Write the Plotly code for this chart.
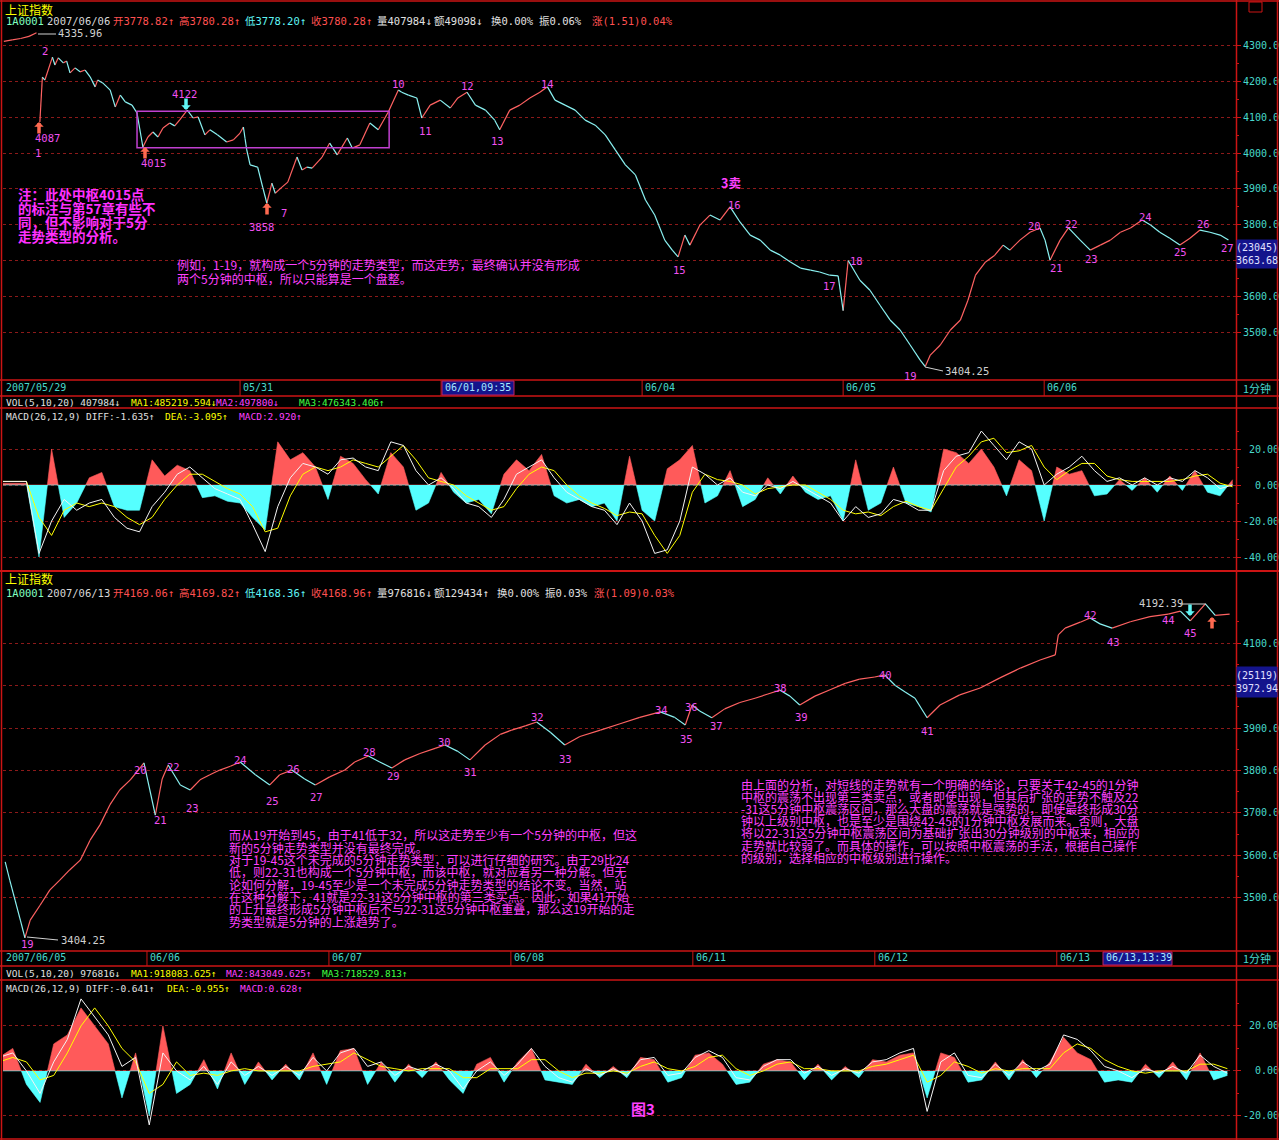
import plotly.graph_objects as go

W, H = 1279, 1140

# ---------------- DATA ----------------
# top panel: minutes since 2007/05/30 open (240 per trading day)
prev_t = [-42, -32, -22, -12, -3]
prev_p = [4312, 4316, 4320, 4326, 4336]

top_t = [1, 4, 7, 16, 19, 23, 29, 33, 37, 43,
         49, 55, 61, 67, 70, 76, 85, 91, 97, 103,
         111, 117, 124, 130, 136, 142, 148, 156, 162, 168,
         177, 184, 190, 198, 204, 213, 224, 232, 240, 244,
         246, 248, 252, 261, 267, 272, 278, 282, 290, 297,
         308, 314, 320, 326, 338, 347, 356, 368, 374, 383,
         395, 405, 417, 429, 433, 441, 451, 457, 467, 479,
         491, 500, 511, 521, 533, 544, 550, 562, 574, 586,
         598, 607, 616, 628, 640, 652, 664, 676, 688, 700,
         712, 724, 735, 747, 756, 763, 771, 777, 789, 801,
         813, 825, 837, 849, 861, 873, 885, 897, 909, 921,
         932, 944, 954, 960, 966, 980, 992, 1004, 1016, 1028,
         1040, 1052, 1058, 1064, 1076, 1088, 1100, 1109, 1118, 1130,
         1141, 1151, 1159, 1171, 1183, 1195, 1201, 1207, 1219, 1229,
         1243, 1255, 1267, 1279, 1291, 1303, 1317, 1327, 1338, 1350,
         1362, 1374, 1386, 1398, 1410, 1420]
top_p = [4087, 4212, 4204, 4268, 4246, 4266, 4252, 4257, 4224, 4238,
         4227, 4232, 4213, 4185, 4204, 4196, 4176, 4129, 4162, 4143,
         4134, 4112, 4017, 4045, 4059, 4045, 4070, 4084, 4076, 4093,
         4120, 4098, 4101, 4051, 4065, 4051, 4031, 4037, 4056, 4073,
         4040, 4009, 3967, 3961, 3905, 3860, 3916, 3888, 3905, 3919,
         3989, 3953, 3961, 3958, 3989, 4028, 3995, 4042, 4014, 4023,
         4084, 4065, 4115, 4176, 4170, 4162, 4154, 4098, 4134, 4148,
         4126, 4154, 4170, 4134, 4120, 4092, 4065, 4120, 4134, 4154,
         4170, 4185, 4148, 4134, 4120, 4092, 4078, 4051, 4009, 3967,
         3939, 3869, 3827, 3757, 3729, 3710, 3771, 3743, 3799, 3827,
         3813, 3850, 3807, 3771, 3757, 3729, 3715, 3696, 3679, 3673,
         3668, 3659, 3657, 3560, 3700, 3645, 3617, 3575, 3534, 3506,
         3464, 3422, 3404, 3436, 3464, 3506, 3534, 3589, 3659, 3696,
         3715, 3743, 3729, 3757, 3779, 3791, 3757, 3701, 3757, 3791,
         3757, 3729, 3743, 3757, 3779, 3791, 3813, 3799, 3779, 3762,
         3743, 3762, 3785, 3779, 3771, 3757]

zs_t0, zs_t1, zs_low, zs_high = 117, 418, 4015, 4117

# top MACD: every 15 minutes from t=-45
top_macd_t = list(range(-45, 1426, 15))
top_hist = [1, 1, 1, -40, 20, -18, -10, 4, 7, -12,
            -14, -14, 14, 5, 11, 8, -7, -6, -9, -10,
            -18, -25, 24, 14, 18, 10, -8, 16, 12, 3,
            -5, 18, 10, -14, -10, 7, -4, -10, -8, -16,
            6, 14, 8, 17, -6, -10, -8, -12, -10, -20,
            16, -14, -20, 9, 14, 22, -10, -6, 8, -12,
            -8, 4, -5, 5, -4, -8, -6, -20, 14, -14,
            -10, 10, -10, -12, -15, 20, 18, 12, 20, 10,
            -6, 14, 8, -20, 10, 6, 8, -6, -5, 3,
            -3, 4, -4, 5, -3, 8, -4, -6, 3]
top_diff = [2, 2, 2, -38, -20, -8, -14, -10, -8, -18,
            -24, -26, -12, -4, 6, 10, 4, -2, -5, -8,
            -22, -37, -12, 4, 12, 10, 6, 14, 15, 10,
            8, 24, 22, 8, 0, 4, -2, -10, -12, -18,
            -8, 6, 10, 14, 4, -4, -8, -12, -14, -22,
            -10, -20, -38, -36, -20, 10, 6, 0, 4, -4,
            -6, 0, -2, 2, -2, -6, -10, -20, -12, -18,
            -16, -8, -10, -14, -14, 8, 16, 18, 30, 22,
            14, 24, 20, 0, 6, 10, 16, 8, 2, 4,
            0, 4, 0, 4, 2, 8, 4, -2, 0]
top_dea = [2, 2, 2, -18, -28, -14, -10, -12, -10, -12,
           -18, -22, -18, -8, 0, 6, 6, 2, -2, -5,
           -12, -26, -24, -6, 6, 10, 8, 10, 14, 12,
           10, 16, 22, 14, 4, 2, 0, -6, -10, -14,
           -12, -2, 6, 10, 8, 0, -6, -10, -13, -17,
           -15, -16, -28, -38, -28, -4, 6, 3, 2, 0,
           -5, -2, -1, 0, 0, -4, -8, -14, -16, -15,
           -17, -12, -9, -12, -14, -2, 10, 16, 24, 26,
           18, 19, 22, 10, 3, 8, 12, 12, 5, 3,
           2, 2, 2, 2, 3, 5, 6, 1, -1]

# bottom panel: minutes since 2007/06/05 open
bot_t = [53, 59, 66, 73, 79, 86, 99, 112, 125, 138,
         152, 165, 178, 191, 204, 218, 231, 236, 251, 260,
         268, 284, 297, 310, 323, 336, 350, 363, 383, 402,
         415, 431, 448, 462, 481, 501, 514, 532, 547, 563,
         580, 600, 620, 633, 650, 666, 686, 706, 721, 739,
         754, 772, 791, 811, 838, 864, 890, 917, 936, 950,
         959, 969, 985, 1002, 1022, 1042, 1059, 1075, 1088, 1101,
         1121, 1141, 1161, 1180, 1200, 1213, 1227, 1240, 1253, 1269,
         1286, 1312, 1339, 1365, 1392, 1418, 1438, 1442, 1451, 1471,
         1484, 1497, 1513, 1537, 1563, 1587, 1603, 1616, 1636, 1649,
         1668]
bot_p = [3585, 3542, 3495, 3448, 3406, 3448, 3483, 3519, 3542, 3566,
         3589, 3636, 3672, 3719, 3754, 3778, 3806, 3818, 3695, 3780,
         3813, 3766, 3754, 3778, 3790, 3801, 3810, 3820, 3790, 3766,
         3790, 3801, 3780, 3766, 3785, 3801, 3820, 3834, 3820, 3806,
         3825, 3840, 3852, 3860, 3845, 3825, 3860, 3885, 3895, 3905,
         3914, 3890, 3860, 3880, 3895, 3910, 3925, 3938, 3925, 3907,
         3954, 3940, 3924, 3945, 3960, 3970, 3980, 3989, 3975, 3954,
         3975, 3990, 4005, 4015, 4020, 4025, 4000, 3985, 3970, 3924,
         3954, 3978, 3994, 4018, 4041, 4060, 4072, 4119, 4135, 4149,
         4159, 4145, 4135, 4150, 4162, 4168, 4175, 4152, 4192, 4165,
         4168]

bot_macd_t = list(range(45, 1666, 18))
bot_hist = [6, 10, -6, -14, 12, 16, 28, 20, 12, -12,
            8, -20, 20, -10, -6, 5, -8, 8, -6, 4,
            -4, 3, -4, 8, -6, 9, 10, -6, 4, -5,
            3, -3, 4, -4, -10, 3, 6, -5, 4, 10,
            -4, -5, -6, 3, -3, 2, -3, 6, 5, -5,
            -3, 7, 8, 3, -6, -5, 3, 5, 4, -4,
            3, -4, 2, -3, 5, 4, 7, 8, -12, 8,
            6, -5, -4, 4, -4, 5, -3, 4, 15, 8,
            5, -5, -4, -5, 3, -3, 4, -4, 8, -4,
            -2]
bot_diff = [6, 8, 0, -10, 4, 14, 32, 24, 16, 2,
            6, -24, 8, 0, -4, 2, -6, 4, -2, 2,
            -2, 2, -2, 6, 0, 8, 10, 2, 4, -2,
            2, 0, 3, 0, -8, 0, 4, -2, 3, 10,
            2, -3, -5, 1, -2, 1, -2, 5, 6, -2,
            -1, 6, 9, 6, -3, -4, 2, 5, 5, -1,
            2, -2, 1, -1, 4, 5, 8, 10, -18, 4,
            8, -2, -3, 3, -2, 4, 0, 3, 16, 14,
            9, 2, 0, -3, 1, -1, 2, -1, 7, 2,
            -1]
bot_dea = [4, 6, 4, -4, -2, 8, 20, 28, 20, 10,
           4, -10, -6, 4, -2, -1, -2, 0, 1, 0,
           0, 0, 0, 2, 3, 4, 8, 5, 2, 1,
           0, 1, 1, 1, -3, -3, 1, 1, 1, 5,
           5, 0, -3, -1, -1, 0, -1, 2, 4, 1,
           0, 2, 6, 7, 1, -2, 0, 3, 4, 1,
           1, 0, 0, 0, 2, 3, 5, 7, -5, -2,
           4, 2, -1, 1, 0, 1, 1, 1, 8, 12,
           10, 5, 2, 0, -1, 0, 0, 0, 3, 3,
           1]

top_day_t = [240, 480, 720, 960, 1200]
top_day_lbl = ["05/31", "", "06/04", "06/05", "06/06"]
bot_day_t = [240, 480, 720, 960, 1200, 1440]
bot_day_lbl = ["06/06", "06/07", "06/08", "06/11", "06/12", "06/13"]

top_price_ticks = [3500, 3600, 3700, 3800, 3900, 4000, 4100, 4200, 4300]
bot_price_ticks = [3500, 3600, 3700, 3800, 3900, 4000, 4100]
top_macd_ticks = [-40, -20, 0, 20]
bot_macd_ticks = [-20, 0, 20]
top_cursor = ("(23045)", "3663.68")
bot_cursor = ("(25119)", "3972.94")

# ---------------- STYLE ----------------
FRAME = "#cc1414"
GRID = "#8c1a1a"
UP = "#ff6262"
DOWN = "#8af2f2"
HRED = "#ff5a5a"
HCYAN = "#55ffff"
MAG = "#ff40ff"
LBL = "#f050f0"
AXT = "#48d8cc"
RTXT = "#ff5050"
WTXT = "#e0e0e0"
GRAYL = "#d0d0d0"
NAVY = "#14148c"
MONO = "DejaVu Sans Mono, Noto Sans CJK SC"
CJK = "Noto Sans CJK SC, DejaVu Sans"


def px(x):
    return x / W


def py(y):
    return 1 - y / H


fig = go.Figure()


def add_price(t, p, xa, ya):
    ux, uy, dx, dy = [], [], [], []
    for i in range(len(t) - 1):
        if p[i + 1] >= p[i]:
            ux += [t[i], t[i + 1], None]
            uy += [p[i], p[i + 1], None]
        else:
            dx += [t[i], t[i + 1], None]
            dy += [p[i], p[i + 1], None]
    for xs, ys, c in ((ux, uy, UP), (dx, dy, DOWN)):
        fig.add_trace(go.Scatter(x=xs, y=ys, xaxis=xa, yaxis=ya, mode="lines",
                                 line=dict(color=c, width=1.2), hoverinfo="skip",
                                 showlegend=False))


def add_macd(t, h, diff, dea, xa, ya):
    n = min(len(t), len(h))
    xs, ys = [t[0]], [h[0]]
    for i in range(1, n):
        a, b = h[i - 1], h[i]
        if a * b < 0:
            xs.append(t[i - 1] + (t[i] - t[i - 1]) * a / (a - b))
            ys.append(0)
        xs.append(t[i])
        ys.append(b)
    pos = [max(v, 0) for v in ys]
    neg = [min(v, 0) for v in ys]
    fig.add_trace(go.Scatter(x=xs, y=pos, xaxis=xa, yaxis=ya, mode="lines", fill="tozeroy",
                             fillcolor=HRED, line=dict(color=HRED, width=0.6),
                             hoverinfo="skip", showlegend=False))
    fig.add_trace(go.Scatter(x=xs, y=neg, xaxis=xa, yaxis=ya, mode="lines", fill="tozeroy",
                             fillcolor=HCYAN, line=dict(color=HCYAN, width=0.6),
                             hoverinfo="skip", showlegend=False))
    m = min(len(t), len(dea))
    fig.add_trace(go.Scatter(x=t[:m], y=dea[:m], xaxis=xa, yaxis=ya, mode="lines",
                             line=dict(color="#ffff00", width=1), hoverinfo="skip",
                             showlegend=False))
    m = min(len(t), len(diff))
    fig.add_trace(go.Scatter(x=t[:m], y=diff[:m], xaxis=xa, yaxis=ya, mode="lines",
                             line=dict(color="#f4f4f4", width=1), hoverinfo="skip",
                             showlegend=False))


add_price(prev_t, prev_p, "x", "y")
add_price(top_t, top_p, "x", "y")
add_macd(top_macd_t, top_hist, top_diff, top_dea, "x2", "y2")
add_price(bot_t, bot_p, "x3", "y3")
add_macd(bot_macd_t, bot_hist, bot_diff, bot_dea, "x4", "y4")

# ---------------- AXES ----------------
xdom = [px(3), px(1236)]
xcommon = dict(visible=False, showgrid=False, zeroline=False, fixedrange=True)


def yax(dom, rng, anchor, tickvals, ticktext, minorvals):
    return dict(domain=dom, range=rng, anchor=anchor, side="right", showgrid=True,
                gridcolor=GRID, griddash="dot", gridwidth=1, zeroline=False,
                showline=False, ticks="outside", ticklen=4, tickcolor=FRAME,
                tickmode="array", tickvals=tickvals, ticktext=ticktext,
                tickfont=dict(family=MONO, size=10, color=AXT), fixedrange=True,
                minor=dict(ticks="outside", ticklen=2, tickcolor=FRAME,
                           tickmode="array", tickvals=minorvals, showgrid=False))


def pad(s, n=6):
    return "\u00a0" * (n - len(s)) + s


def price_text(ticks, hidden):
    # the label under the cursor box is hidden by the box in the reference
    return ["" if v == hidden else f"{v:.1f}" for v in ticks]


fig.update_layout(
    width=W, height=H, autosize=False,
    margin=dict(l=0, r=0, t=0, b=0, pad=0),
    paper_bgcolor="black", plot_bgcolor="black",
    showlegend=False,
    xaxis=dict(domain=xdom, range=[-43, 1429], anchor="y", **xcommon),
    xaxis2=dict(domain=xdom, range=[-43, 1429], anchor="y2", **xcommon),
    xaxis3=dict(domain=xdom, range=[50.1, 1676.4], anchor="y3", **xcommon),
    xaxis4=dict(domain=xdom, range=[50.1, 1676.4], anchor="y4", **xcommon),
    yaxis=yax([py(378), py(30)], [3371.9, 4343.8], "x", top_price_ticks,
              price_text(top_price_ticks, 3700),
              [v + 50 for v in top_price_ticks]),
    yaxis2=yax([py(568), py(408)], [-46.1, 42.8], "x2", top_macd_ticks,
               [pad(f"{v:.2f}") for v in top_macd_ticks], [-30, -10, 10, 30]),
    yaxis3=yax([py(950), py(600)], [3377.6, 4201.2], "x3", bot_price_ticks,
               price_text(bot_price_ticks, 4000),
               [v + 50 for v in bot_price_ticks]),
    yaxis4=yax([0, py(980)], [-30.7, 40.4], "x4", bot_macd_ticks,
               [pad(f"{v:.2f}") for v in bot_macd_ticks], [-10, 10, 30]),
)

# ---------------- FRAME ----------------
shapes = []


def hline(y, x0=0, x1=W, color=FRAME, w=1.5):
    shapes.append(dict(type="line", xref="paper", yref="paper", x0=px(x0), x1=px(x1),
                       y0=py(y), y1=py(y), line=dict(color=color, width=w)))


def vline(x, y0=0, y1=H, color=FRAME, w=1.5):
    shapes.append(dict(type="line", xref="paper", yref="paper", x0=px(x), x1=px(x),
                       y0=py(y0), y1=py(y1), line=dict(color=color, width=w)))


def rect(x0, y0, x1, y1, fill=NAVY, line=None):
    shapes.append(dict(type="rect", xref="paper", yref="paper", x0=px(x0), x1=px(x1),
                       y0=py(y1), y1=py(y0), fillcolor=fill,
                       line=dict(color=line or fill, width=1), layer="above"))


for y in (1, 380, 396, 408, 951, 966, 980, 1139):
    hline(y)
hline(571, w=2)
vline(1.5)
vline(1236.5)
vline(1277.5)
shapes.append(dict(type="rect", xref="paper", yref="paper", x0=px(1249), x1=px(1262),
                   y0=py(12), y1=py(2), line=dict(color=FRAME, width=1)))

# day separators in date strips
for t in top_day_t:
    shapes.append(dict(type="line", xref="x", yref="paper", x0=t, x1=t, y0=py(396), y1=py(380),
                       line=dict(color=FRAME, width=1)))
for t in bot_day_t:
    shapes.append(dict(type="line", xref="x3", yref="paper", x0=t, x1=t, y0=py(966), y1=py(951),
                       line=dict(color=FRAME, width=1)))

# 中枢 box
shapes.append(dict(type="rect", xref="x", yref="y", x0=zs_t0, x1=zs_t1, y0=zs_low, y1=zs_high,
                   line=dict(color="#c040d0", width=1.5)))

# leader lines for extreme labels
for (x0, y0, x1, y1) in ((38, 34, 56, 34), (925, 367, 943, 371), (27, 937, 58, 940),
                         (1180, 604, 1206, 604)):
    shapes.append(dict(type="line", xref="paper", yref="paper", x0=px(x0), x1=px(x1),
                       y0=py(y0), y1=py(y1), line=dict(color=GRAYL, width=1)))

# cursor boxes
rect(1237, 240, 1277, 268)
rect(1237, 667, 1277, 697)
rect(442, 381, 514, 395, line="#c02060")
rect(1103, 952, 1172, 965, line="#c02060")

fig.update_layout(shapes=shapes)

# ---------------- TEXT ----------------


def T(s, x, y, color, size=10.5, family=MONO, anchor="left", bold=False):
    fig.add_annotation(text=f"<b>{s}</b>" if bold else s, x=px(x), y=py(y),
                       xref="paper", yref="paper", xanchor=anchor, yanchor="middle",
                       showarrow=False, borderpad=0,
                       font=dict(family=family, size=size, color=color))


def header(y, items):
    for s, x, c in items:
        T(s, x, y, c)


T("上证指数", 4, 9, "#ffff00", 12, CJK)
header(21, [("1A0001", 5, "#80ffc0"), ("2007/06/06", 46, "#d8d8d8"),
            ("开3778.82↑", 112, RTXT), ("高3780.28↑", 178, RTXT),
            ("低3778.20↑", 244, "#5ff5f5"), ("收3780.28↑", 310, RTXT),
            ("量407984↓", 376, WTXT), ("额49098↓", 433, WTXT),
            ("换0.00%", 490, WTXT), ("振0.06%", 538, WTXT),
            ("涨(1.51)0.04%", 591, RTXT)])
T("上证指数", 4, 578, "#ffff00", 12, CJK)
header(593, [("1A0001", 5, "#80ffc0"), ("2007/06/13", 46, "#d8d8d8"),
             ("开4169.06↑", 112, RTXT), ("高4169.82↑", 178, RTXT),
             ("低4168.36↑", 244, "#5ff5f5"), ("收4168.96↑", 310, RTXT),
             ("量976816↓", 376, WTXT), ("额129434↑", 433, WTXT),
             ("换0.00%", 496, WTXT), ("振0.03%", 544, WTXT),
             ("涨(1.09)0.03%", 593, RTXT)])

for s, x, c in (("VOL(5,10,20) 407984↓", 5, WTXT), ("MA1:485219.594↓", 130, "#ffff00"),
                ("MA2:497800↓", 215, MAG), ("MA3:476343.406↑", 298, "#40ff40")):
    T(s, x, 402, c, 9.5)
for s, x, c in (("MACD(26,12,9) DIFF:-1.635↑", 5, WTXT), ("DEA:-3.095↑", 164, "#ffff00"),
                ("MACD:2.920↑", 238, MAG)):
    T(s, x, 416, c, 9.5)
for s, x, c in (("VOL(5,10,20) 976816↓", 5, WTXT), ("MA1:918083.625↑", 130, "#ffff00"),
                ("MA2:843049.625↑", 225, MAG), ("MA3:718529.813↑", 321, "#40ff40")):
    T(s, x, 973, c, 9.5)
for s, x, c in (("MACD(26,12,9) DIFF:-0.641↑", 5, WTXT), ("DEA:-0.955↑", 166, "#ffff00"),
                ("MACD:0.628↑", 239, MAG)):
    T(s, x, 988, c, 9.5)

# date strips
T("2007/05/29", 5, 388, AXT, 10)
for t, s in zip(top_day_t, top_day_lbl):
    if s:
        fig.add_annotation(text=s, x=t, y=py(388), xref="x", yref="paper", xanchor="left",
                           yanchor="middle", xshift=1, showarrow=False,
                           font=dict(family=MONO, size=10, color=AXT))
T("06/01,09:35", 444, 388, "#a8e8ff", 10)
T("2007/06/05", 5, 958, AXT, 10)
for t, s in zip(bot_day_t, bot_day_lbl):
    fig.add_annotation(text=s, x=t, y=py(958), xref="x3", yref="paper", xanchor="left",
                       yanchor="middle", xshift=1, showarrow=False,
                       font=dict(family=MONO, size=10, color=AXT))
T("06/13,13:39", 1105, 958, "#a8e8ff", 10)
T("1分钟", 1257, 388, AXT, 11, CJK, "center")
T("1分钟", 1257, 958, AXT, 11, CJK, "center")

# cursor price boxes (two lines in one text)
T("<br>".join(top_cursor), 1257, 254, "#e0e0ff", 10, "DejaVu Sans Mono", "center")
T("<br>".join(bot_cursor), 1257, 682, "#e0e0ff", 10, "DejaVu Sans Mono", "center")

# extreme labels
T("4335.96", 57, 33, GRAYL, 10.5)
T("3404.25", 944, 371, GRAYL, 10.5)
T("3404.25", 60, 940, GRAYL, 10.5)
T("4192.39", 1138, 603, GRAYL, 10.5)

top_labels = [("1", 38, 153), ("2", 45, 51), ("4087", 47, 138), ("4015", 153, 163),
              ("4122", 184, 94), ("3858", 261, 227), ("7", 284, 213), ("10", 398, 84),
              ("11", 425, 131), ("12", 467, 86), ("13", 497, 141), ("14", 547, 84),
              ("15", 679, 270), ("16", 734, 205), ("17", 829, 286), ("18", 856, 261),
              ("19", 910, 376), ("20", 1034, 226), ("21", 1056, 268), ("22", 1071, 224),
              ("23", 1091, 259), ("24", 1145, 217), ("25", 1180, 252), ("26", 1203, 224),
              ("27", 1227, 248)]
bot_labels = [("19", 27, 944), ("20", 140, 770), ("21", 160, 820), ("22", 173, 767),
              ("23", 192, 808), ("24", 240, 760), ("25", 272, 801), ("26", 293, 769),
              ("27", 316, 797), ("28", 369, 752), ("29", 393, 776), ("30", 444, 742),
              ("31", 471, 772), ("32", 537, 717), ("33", 565, 759), ("34", 661, 710),
              ("35", 686, 739), ("36", 691, 707), ("37", 716, 726), ("38", 780, 688),
              ("39", 801, 717), ("40", 886, 675), ("41", 928, 731), ("42", 1090, 615),
              ("43", 1113, 642), ("44", 1168, 620), ("45", 1190, 633)]
for s, x, y in top_labels + bot_labels:
    T(s, x, y, LBL, 10.5, MONO, "center")
T("3卖", 731, 182, MAG, 12.5, CJK, "center", bold=True)


def ARROW(x, y, color, up=True):
    fig.add_annotation(x=px(x), y=py(y), xref="paper", yref="paper", text="",
                       showarrow=True, ax=0, ay=(13 if up else -13), arrowhead=1,
                       arrowsize=0.45, arrowwidth=3.5, arrowcolor=color)


ARROW(39, 122, "#ff6a50", True)
ARROW(145, 147, "#ff6a50", True)
ARROW(267, 203, "#ff6a50", True)
ARROW(186, 110, "#5ff5f5", False)
ARROW(1190, 616, "#5ff5f5", False)
ARROW(1212, 617, "#ff6a50", True)

# notes
note_lines = ["注：此处中枢4015点", "的标注与第57章有些不", "同，但不影响对于5分", "走势类型的分析。"]
for i, s in enumerate(note_lines):
    T(s, 17, 194 + 14 * i, "#ff30ff", 13.5, CJK, bold=True)

para_top = ["例如，1-19，就构成一个5分钟的走势类型，而这走势，最终确认并没有形成",
            "两个5分钟的中枢，所以只能算是一个盘整。"]
for i, s in enumerate(para_top):
    T(s, 176, 265 + 13 * i, MAG, 12, CJK)

para_left = ["而从19开始到45，由于41低于32，所以这走势至少有一个5分钟的中枢，但这",
             "新的5分钟走势类型并没有最终完成。",
             "对于19-45这个未完成的5分钟走势类型，可以进行仔细的研究。由于29比24",
             "低，则22-31也构成一个5分钟中枢，而该中枢，就对应着另一种分解。但无",
             "论如何分解，19-45至少是一个未完成5分钟走势类型的结论不变。当然，站",
             "在这种分解下，41就是22-31这5分钟中枢的第三类买点。因此，如果41开始",
             "的上升最终形成5分钟中枢后不与22-31这5分钟中枢重叠，那么这19开始的走",
             "势类型就是5分钟的上涨趋势了。"]
for i, s in enumerate(para_left):
    T(s, 228, 835 + 12.3 * i, MAG, 12, CJK)

para_right = ["由上面的分析，对短线的走势就有一个明确的结论，只要关于42-45的1分钟",
              "中枢的震荡不出现第三类卖点，或者即使出现，但其后扩张的走势不触及22",
              "-31这5分钟中枢震荡区间，那么大盘的震荡就是强势的，即使最终形成30分",
              "钟以上级别中枢，也是至少是围绕42-45的1分钟中枢发展而来。否则，大盘",
              "将以22-31这5分钟中枢震荡区间为基础扩张出30分钟级别的中枢来，相应的",
              "走势就比较弱了。而具体的操作，可以按照中枢震荡的手法，根据自己操作",
              "的级别，选择相应的中枢级别进行操作。"]
for i, s in enumerate(para_right):
    T(s, 740, 784 + 12.2 * i, MAG, 12, CJK)

T("图3", 643, 1108, MAG, 15, CJK, "center", bold=True)

fig.write_html("out.html", config={"displayModeBar": False},
               post_script="document.body.style.margin='0';"
                           "document.body.style.background='black';"
                           "document.body.style.overflow='hidden';")
